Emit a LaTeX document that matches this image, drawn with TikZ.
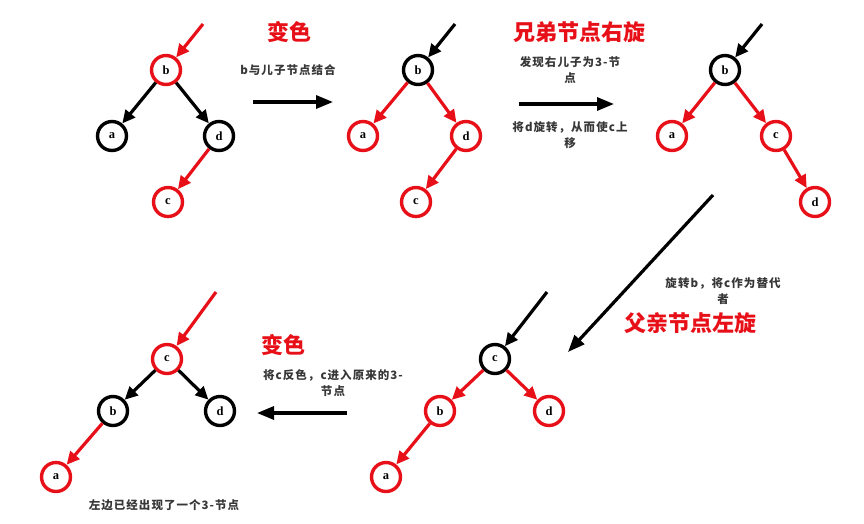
\documentclass[tikz,border=0pt]{standalone}
\usepackage{fontspec}
\setmainfont{Liberation Serif}
\newfontfamily\cjk{Noto Sans CJK SC}
\newfontfamily\notefont{Noto Sans CJK SC}[LetterSpace=9]
\usetikzlibrary{arrows.meta}
\definecolor{rbred}{RGB}{232,16,24}
\definecolor{notegray}{RGB}{55,55,55}

\begin{document}
\begin{tikzpicture}[x=1pt, y=-1pt,
  rnode/.style={circle, draw=rbred, line width=3.4pt, minimum size=29pt,
    inner sep=0pt, fill=white, font=\bfseries\fontsize{12.5}{13}\selectfont},
  bnode/.style={rnode, draw=black},
  redge/.style={draw=rbred, line width=3.2pt, -{Triangle[length=13pt, width=12pt]}},
  bedge/.style={redge, draw=black},
  bigarrow/.style={draw=black, line width=3.2pt, -{Triangle[length=17pt, width=13pt]}},
  note/.style={font=\notefont\bfseries\fontsize{11.5}{16}\selectfont, text=notegray, align=center},
  title/.style={font=\cjk\bfseries\fontsize{22}{24}\selectfont, text=rbred},
]
  \useasboundingbox (0,0) rectangle (864,523);

  % tree 1: b is red
  \coordinate (in1) at (203,24);
  \node[rnode] (b1) at (166,70)  {b};
  \node[bnode] (a1) at (112,136) {a};
  \node[bnode] (d1) at (219,136) {d};
  \node[rnode] (c1) at (168,202) {c};
  \draw[redge] (in1) -- (b1);
  \draw[bedge] (b1) -- (a1);
  \draw[bedge] (b1) -- (d1);
  \draw[redge] (d1) -- (c1);

  % tree 2: after recolouring
  \coordinate (in2) at (455,24);
  \node[bnode] (b2) at (418,70)  {b};
  \node[rnode] (a2) at (363,136) {a};
  \node[rnode] (d2) at (466,136) {d};
  \node[rnode] (c2) at (416,202) {c};
  \draw[bedge] (in2) -- (b2);
  \draw[redge] (b2) -- (a2);
  \draw[redge] (b2) -- (d2);
  \draw[redge] (d2) -- (c2);

  % tree 3: sibling rotated right
  \coordinate (in3) at (762,24);
  \node[bnode] (b3) at (725,70)  {b};
  \node[rnode] (a3) at (672,136) {a};
  \node[rnode] (c3) at (776,136) {c};
  \node[rnode] (d3) at (815,202) {d};
  \draw[bedge] (in3) -- (b3);
  \draw[redge] (b3) -- (a3);
  \draw[redge] (b3) -- (c3);
  \draw[redge] (c3) -- (d3);

  % tree 4: parent rotated left
  \coordinate (in4) at (547,292);
  \node[bnode] (c4) at (495,359) {c};
  \node[rnode] (b4) at (440,411) {b};
  \node[rnode] (d4) at (549,411) {d};
  \node[rnode] (a4) at (386,477) {a};
  \draw[bedge] (in4) -- (c4);
  \draw[redge] (c4) -- (b4);
  \draw[redge] (c4) -- (d4);
  \draw[redge] (b4) -- (a4);

  % tree 5: final recolouring
  \coordinate (in5) at (216,292);
  \node[rnode] (c5) at (167,359) {c};
  \node[bnode] (b5) at (113,411) {b};
  \node[bnode] (d5) at (220,411) {d};
  \node[rnode] (a5) at (56,477)  {a};
  \draw[redge] (in5) -- (c5);
  \draw[bedge] (c5) -- (b5);
  \draw[bedge] (c5) -- (d5);
  \draw[redge] (b5) -- (a5);

  % step arrows
  \coordinate (s1a) at (253,102); \coordinate (s1b) at (333,102);
  \coordinate (s2a) at (519,104); \coordinate (s2b) at (614,104);
  \coordinate (s3a) at (713,195); \coordinate (s3b) at (568,352);
  \coordinate (s4a) at (347,413); \coordinate (s4b) at (257,413);
  \draw[bigarrow] (s1a) -- (s1b);
  \draw[bigarrow] (s2a) -- (s2b);
  \draw[bigarrow] (s3a) -- (s3b);
  \draw[bigarrow] (s4a) -- (s4b);

  % step labels
  \node[title] (t1) at (289,32)  {变色};
  \node[note]  (n1) at (288,70)  {b与儿子节点结合};
  \node[title] (t2) at (579,32)  {兄弟节点右旋};
  \node[note]  (n2) at (570,70)  {发现右儿子为3-节\\点};
  \node[note]  (n3) at (570,135) {将d旋转，从而使c上\\移};
  \node[note]  (n4) at (723,291) {旋转b，将c作为替代\\者};
  \node[title] (t3) at (690,323) {父亲节点左旋};
  \node[title] (t4) at (283,345) {变色};
  \node[note]  (n5) at (333,383) {将c反色，c进入原来的3-\\节点};
  \node[note]  (n6) at (164,505) {左边已经出现了一个3-节点};
\end{tikzpicture}
\end{document}
